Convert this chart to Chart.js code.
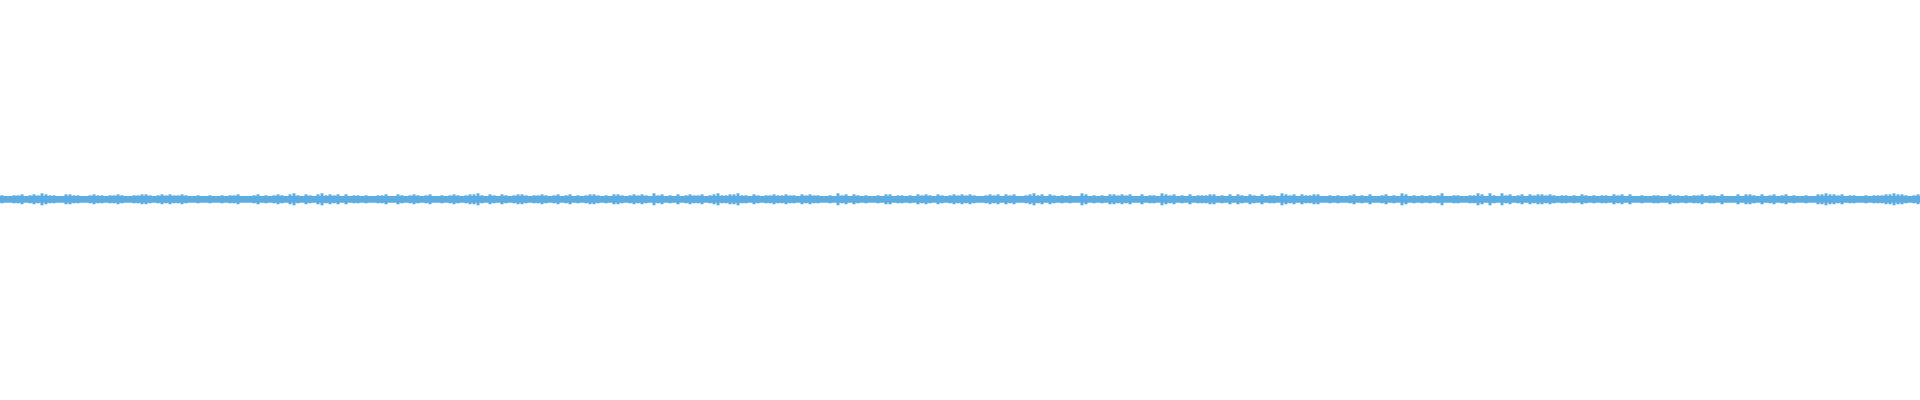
<!DOCTYPE html>
<html>
<head>
<meta charset="utf-8">
<title>Waveform</title>
<script src="https://cdn.jsdelivr.net/npm/chart.js@4/dist/chart.umd.min.js"></script>
<style>
  html, body { margin: 0; padding: 0; background: #ffffff; }
  .wave { position: relative; width: 1920px; height: 400px; }
</style>
</head>
<body>
<div class="wave">
  <canvas id="waveChart"></canvas>
</div>
<script>
// peak amplitude (px from centre) per 4px slice, left to right
const slice1 = [4,3,3,4,4,5,3,4,5,4,6,5,4,4,3,3,5,5,4,4,3,3,4,5,4,4,3,4,4,5,4,3,3,4,4,5,5,4,3,4,5,4,5,4,4,5,4,3,3,4,3,3,4,3,3,4,3,4,4,5];
const slice2 = [3,3,3,4,5,3,4,3,4,5,4,3,5,6,4,3,5,4,3,5,6,4,5,4,5,3,5,3,4,4,3,4,3,3,4,4,5,3,3,5,4,3,4,5,4,3,4,5,3,3,4,3,4,5,4,3,4,5,5,6];
const slice3 = [4,3,5,4,3,5,4,3,4,5,5,4,3,4,4,5,4,3,4,5,3,4,5,3,4,3,4,5,5,4,3,4,3,5,5,4,3,4,5,4,5,4,3,6,4,5,3,4,3,5,3,4,5,4,4,5,3,4,5,6];
const slice4 = [4,4,5,5,6,4,4,3,5,4,3,4,4,5,4,4,5,4,4,3,5,4,5,4,4,3,3,4,3,6,4,5,3,5,4,3,4,3,3,4,3,5,5,3,4,4,3,4,3,5,4,5,4,3,5,4,3,4,5,4];
const slice5 = [5,4,5,4,3,3,4,5,4,5,3,5,4,5,3,3,4,5,6,4,5,3,5,4,3,4,3,4,3,3,6,5,3,4,3,4,3,5,5,4,5,4,5,3,3,5,3,4,4,3,6,5,4,5,3,4,3,5,3,4];
const slice6 = [4,4,5,5,3,4,3,5,3,5,4,3,5,4,3,5,3,4,4,3,6,5,4,5,3,5,4,4,5,5,3,3,4,3,4,3,3,4,5,3,4,3,5,3,3,4,5,3,4,3,6,5,3,4,3,4,3,4,3,4];
const slice7 = [6,3,3,4,4,3,3,4,4,6,5,3,6,4,3,6,4,5,3,4,5,3,5,4,5,5,4,5,4,3,4,4,3,4,3,5,4,3,4,3,4,4,3,5,4,5,3,5,3,3,4,3,3,4,4,3,3,5,4,4];
const slice8 = [3,4,3,4,4,5,3,4,4,3,5,3,3,3,5,3,5,5,4,3,5,3,4,5,3,4,5,3,4,3,3,4,3,3,5,5,6,5,5,4,5,3,4,4,3,3,4,3,4,4,4,5,5,6,5,5,4,3,4,5];
// half height of the steady body of the wave
const bodyHalf = 3;

const peaks = [].concat(slice1, slice2, slice3, slice4, slice5, slice6, slice7, slice8);
const labels = peaks.map((p, i) => i);
const waveColor = '#5dade2';

const ctx = document.getElementById('waveChart').getContext('2d');

new Chart(ctx, {
  type: 'bar',
  data: {
    labels: labels,
    datasets: [
      {
        label: 'body',
        data: peaks.map(p => [-Math.min(p, bodyHalf), Math.min(p, bodyHalf)]),
        backgroundColor: waveColor,
        borderWidth: 0,
        grouped: false,
        barPercentage: 1,
        categoryPercentage: 1,
      },
      {
        label: 'peaks',
        data: peaks.map(p => [-p, p]),
        backgroundColor: waveColor,
        borderWidth: 0,
        grouped: false,
        barPercentage: 0.75,
        categoryPercentage: 1,
      }
    ]
  },
  options: {
    responsive: true,
    maintainAspectRatio: false,
    animation: false,
    layout: { padding: 0 },
    plugins: {
      legend: { display: false },
      tooltip: { enabled: false },
    },
    scales: {
      x: { display: false },
      y: { display: false, min: -200.7, max: 199.3 }
    }
  }
});
</script>
</body>
</html>
